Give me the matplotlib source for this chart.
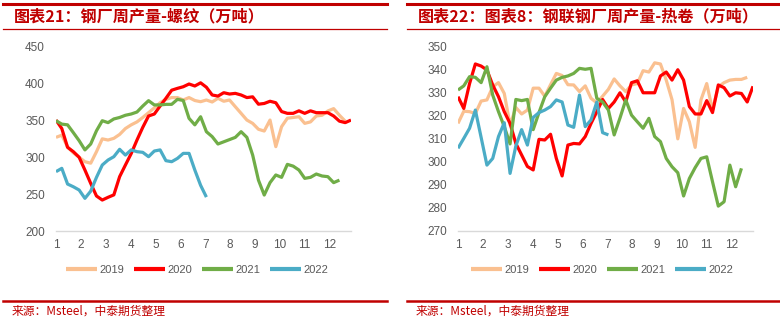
import numpy as np
import matplotlib
matplotlib.use("Agg")
from matplotlib import pyplot as plt
from matplotlib.lines import Line2D

W, H = 780, 322
DARK_RED = "#C00000"
CJK = ["Noto Sans CJK SC", "DejaVu Sans"]
NARROW = ["Liberation Sans Narrow", "Liberation Sans", "DejaVu Sans"]

# ---------------- weekly output, 10k tonnes ----------------
years = ["2019", "2020", "2021", "2022"]
colors = ["#FAC090", "#FF0000", "#70AD47", "#4BACC6"]
month_labels = [str(m) for m in range(1, 13)]

# rebar
rebar_2019 = [327, 330, 314, 306, 300, 294, 292, 307.6, 325, 323.4,
              325.7, 331, 339, 344, 348, 354, 360.5, 367, 374, 378.6,
              381, 381, 377.7, 381, 377, 375.4, 377.7, 375, 380, 376,
              377.7, 368.6, 359.6, 350.5, 346, 338, 335.6, 350.5, 314.4, 341.5,
              353, 354, 355, 346, 348, 356, 357, 362.8, 366, 357,
              349]
rebar_2020 = [350.5, 339, 313.5, 307.6, 300, 282.7, 264.6, 247.5, 242, 245.7,
              249, 273.7, 289.5, 305, 323.4, 340.6, 356, 358.7, 369.5, 380,
              391, 393.5, 395.7, 399.4, 396.7, 401, 395, 384.5, 383, 387.6,
              385.8, 386.7, 384.5, 381, 382, 372, 373, 376, 374, 362,
              359.6, 359.6, 363, 359.6, 363, 360.5, 360.5, 360.5, 356, 349,
              347, 350.5]
rebar_2021 = [349.6, 345, 344, 333.4, 322.5, 310, 318, 336, 349.6, 347,
              352, 354, 357, 358.7, 361.4, 369.5, 376.8, 371, 371, 371.8,
              371.8, 378.6, 377, 352.8, 344, 355, 334.7, 328, 318, 321,
              324, 327, 334.7, 327, 303, 269, 248.8, 265.6, 276, 272.8,
              290.4, 288, 282.7, 271.4, 272.8, 277.3, 274.6, 273.7, 265.6, 269]
rebar_2022 = [280.5, 285, 263.7, 260, 255.6, 244.3, 254, 272.8, 289.5, 296.3,
              300.8, 310.8, 303, 310, 307.6, 306.7, 300.8, 308.5, 310, 295.4,
              294, 298.5, 305.3, 305.3, 282.7, 262, 246]

# hot rolled coil
hrc_2019 = [316.7, 322, 321.8, 321, 326.4, 326.9, 332.6, 334.4, 329.7, 316,
            323.6, 320.8, 322.5, 332, 332, 328.5, 333.5, 338.4, 337.5, 333.5,
            333.4, 330.5, 333, 327.6, 325.6, 328.5, 331.5, 336, 333, 330.5,
            333.4, 334, 339.6, 339, 343, 342.5, 335.5, 327, 310, 323.2,
            317.4, 306.3, 326.9, 334, 322.5, 332.6, 334.4, 335.5, 335.8, 335.8,
            336.7]
hrc_2020 = [328.3, 323.2, 334, 342.5, 341.6, 339.9, 333.4, 328.3, 321.8, 316.7,
            308, 303, 298, 296.5, 309.8, 309.5, 312, 301.5, 293.9, 307.3,
            308, 307.8, 311, 316.7, 321.8, 327.1, 323.2, 326, 330, 326,
            334.4, 335.2, 330, 330, 330, 337.3, 339, 335.5, 340, 335.5,
            324, 320.8, 320.8, 326.6, 321.4, 333.4, 332.2, 328.6, 330, 329.7,
            326, 332.8]
hrc_2021 = [331.2, 333, 337, 336.7, 334.4, 341.3, 329, 321.8, 315.3, 307.8,
            327.1, 326.6, 327.1, 314, 321.4, 328.3, 332, 335.5, 336.7, 337.3,
            338.4, 340.6, 340.2, 340.6, 327.6, 326, 322.5, 311.7, 319, 326.9,
            320.3, 317.4, 314.6, 318.9, 311, 308.8, 301.5, 297.9, 295.3, 285.2,
            292.8, 297.5, 301.5, 302.2, 291.4, 280.8, 282.7, 298.6, 289.2, 297.2]
hrc_2022 = [305.9, 310.2, 314.6, 322.5, 310.6, 298.6, 301.5, 311, 317, 295,
            306.9, 314, 307.3, 319.3, 321.4, 322.5, 324, 326.9, 326, 316,
            315, 329, 315.3, 318.2, 326, 312.7, 311.7]


def fx(x):
    return x / W


def fy(y):
    return 1 - y / H


def hline(fig, x0, x1, y, lw):
    fig.add_artist(Line2D([fx(x0), fx(x1)], [fy(y), fy(y)],
                          transform=fig.transFigure, color=DARK_RED, lw=lw))


# ---------------- one chart block ----------------
def draw_panel(fig, off, title, series, yticks, ax_left, ax_right, legend_cx):
    # frame lines and title
    hline(fig, 3 + off, 387 + off, 3.5, 2.2)
    hline(fig, 3 + off, 387 + off, 28.5, 0.9)
    hline(fig, 3 + off, 387 + off, 300.5, 1.8)
    fig.text(fx(14 + off), fy(16.5), title, ha="left", va="center",
             fontsize=11.6, fontweight="bold", color=DARK_RED, family=CJK)
    fig.text(fx(12 + off), fy(311.5), "来源：Msteel，中泰期货整理",
             ha="left", va="center", fontsize=8.5, color=DARK_RED, family=CJK)

    top, bottom = 46.7, 231
    ax = fig.add_axes([fx(ax_left), fy(bottom),
                       (ax_right - ax_left) / W, (bottom - top) / H])
    for name, vals, c in zip(years, series, colors):
        weeks = np.arange(1, len(vals) + 1)
        ax.plot(weeks, vals, color=c, lw=2.3, label=name,
                solid_joinstyle="round", solid_capstyle="butt")

    ax.set_xlim(1, 52)
    ax.set_ylim(yticks[0], yticks[-1])
    ax.set_yticks(yticks)
    ax.set_yticklabels([str(v) for v in yticks], family=NARROW)
    month_pos = [1 + (m - 1) * 4.3 for m in range(1, 13)]
    ax.set_xticks(month_pos)
    ax.set_xticklabels(month_labels, family=NARROW)
    ax.tick_params(axis="both", length=0, labelsize=8.5, colors="#595959")
    ax.tick_params(axis="y", pad=8)
    ax.tick_params(axis="x", pad=6)

    for s in ["top", "right", "left"]:
        ax.spines[s].set_visible(False)
    ax.spines["bottom"].set_color("#D9D9D9")
    ax.spines["bottom"].set_linewidth(1.0)

    leg = ax.legend(loc="center", bbox_to_anchor=(fx(legend_cx), fy(270)),
                    bbox_transform=fig.transFigure, ncol=4, frameon=False,
                    handlelength=2.8, handletextpad=0.2, columnspacing=0.9,
                    prop={"family": NARROW, "size": 8})
    for line in leg.get_lines():
        line.set_linewidth(3)
    for t in leg.get_texts():
        t.set_color("#595959")
    return ax


fig = plt.figure(figsize=(W / 100, H / 100), dpi=100)
fig.patch.set_facecolor("white")

draw_panel(fig, 0, "图表21：钢厂周产量-螺纹（万吨）",
           [rebar_2019, rebar_2020, rebar_2021, rebar_2022],
           [200, 250, 300, 350, 400, 450], 56, 351, 197)
draw_panel(fig, 404, "图表22：图表8：钢联钢厂周产量-热卷（万吨）",
           [hrc_2019, hrc_2020, hrc_2021, hrc_2022],
           [270, 280, 290, 300, 310, 320, 330, 340, 350], 458, 753, 602)

fig.savefig("out.png", dpi=100)
